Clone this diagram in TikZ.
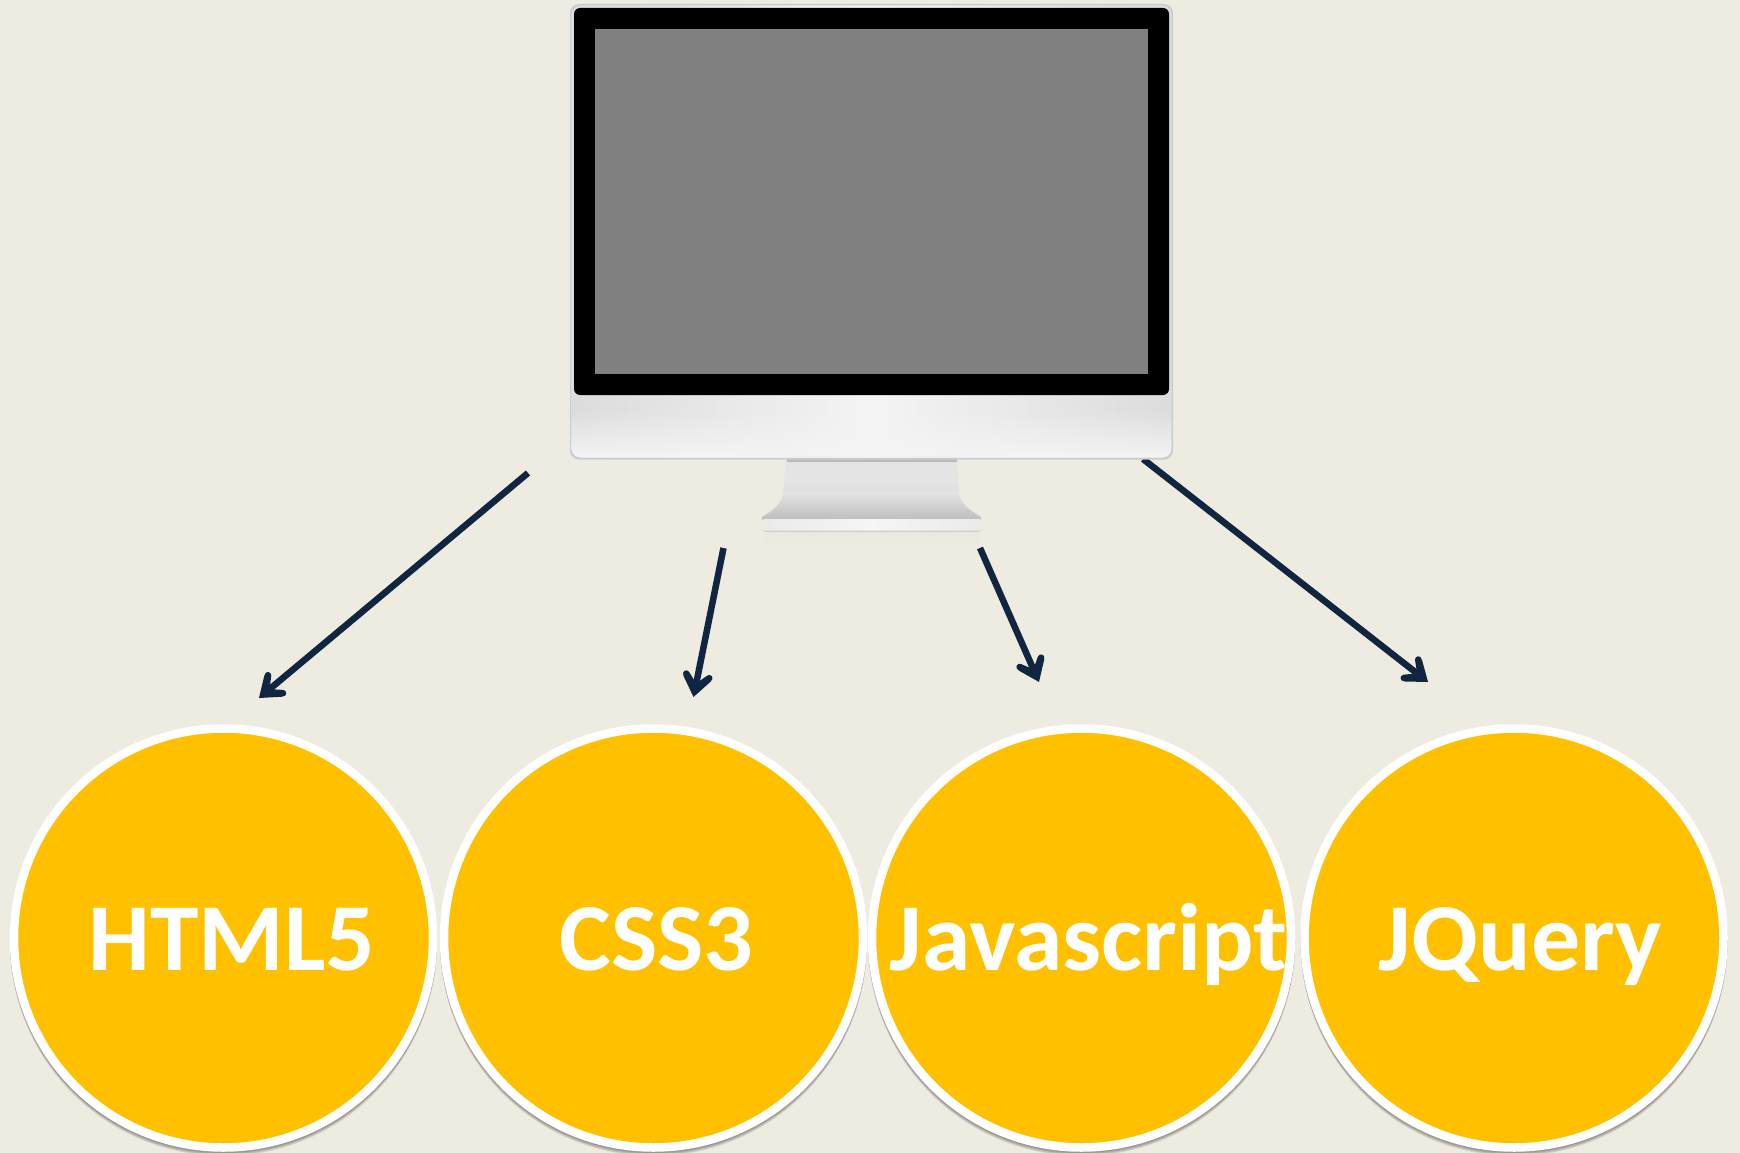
\documentclass[tikz,border=0pt]{standalone}
\usepackage{fontspec}
\setmainfont{Carlito}
\usetikzlibrary{arrows.meta,fadings}
\definecolor{bgc}{HTML}{EEECE1}
\definecolor{gold}{HTML}{FFC000}
\definecolor{navy}{HTML}{10253F}
\definecolor{sideg}{HTML}{DCDCDC}
\definecolor{midg}{HTML}{F4F4F4}
\pgfdeclarearrow{
  name=BoldBarb,
  setup code={
    \pgfarrowssettipend{0pt}
    \pgfarrowssetlineend{-12pt}
    \pgfarrowssetbackend{-25pt}
    \pgfarrowssetvisualbackend{-12pt}
    \pgfarrowsupperhullpoint{0pt}{15pt}
    \pgfarrowsupperhullpoint{-25pt}{15pt}
  },
  drawing code={
    \pgfsetdash{}{0pt}
    \pgfsetroundcap
    \pgfsetlinewidth{6.6pt}
    \pgfpathmoveto{\pgfqpoint{-21.5pt}{11.7pt}}
    \pgfpathlineto{\pgfqpoint{-9pt}{0pt}}
    \pgfpathlineto{\pgfqpoint{-21.5pt}{-11.7pt}}
    \pgfusepathqstroke
    \pgfpathmoveto{\pgfqpoint{0pt}{0pt}}
    \pgfpathlineto{\pgfqpoint{-19pt}{14.2pt}}
    \pgfpathlineto{\pgfqpoint{-13pt}{0pt}}
    \pgfpathlineto{\pgfqpoint{-19pt}{-14.2pt}}
    \pgfpathclose
    \pgfusepathqfill
  }
}
\tikzset{
 x=1pt,y=-1pt,
 disc/.style={circle,draw=white,line width=8.5pt,fill=gold,minimum size=419pt,inner sep=0pt,outer sep=0pt},
 discshadow/.style={circle,fill=black,minimum size=427pt,inner sep=0pt,draw=none,opacity=.1},
 lab/.style={text=white,font=\fontsize{96}{110}\selectfont\bfseries,anchor=base,inner sep=0pt,xscale=1.02},
 conn/.style={draw=navy,fill=navy,line width=6.5pt,-{BoldBarb}},
}
\begin{document}
\begin{tikzpicture}
\useasboundingbox (0,0) rectangle (1740,1153);
\fill[bgc] (0,0) rectangle (1740,1153);
% connector ends
\coordinate (a1s) at (528,473);\coordinate (a1e) at (259,698);
\coordinate (a2s) at (723.5,548);\coordinate (a2e) at (693.5,697);
\coordinate (a3s) at (980,548);\coordinate (a3e) at (1039,682);
\coordinate (a4s) at (1143,459);\coordinate (a4e) at (1428,682);
\draw[conn] (a1s) -- (a1e);
\draw[conn] (a2s) -- (a2e);
\draw[conn] (a3s) -- (a3e);
\draw[conn] (a4s) -- (a4e);
% shadow below the stand base
\fill[gray!30,opacity=.10,path fading=south] (765,531) rectangle (980,546);
% stand neck and flare
\path[top color=gray!22!white,bottom color=gray!24!white,middle color=gray!20!white]
  (786.5,459) -- (957,459) -- (959,492) -- (783,492) -- cycle;
\fill[gray!55!white] (786.5,459) rectangle (957,461.5);
\path[top color=gray!20!white,bottom color=gray!52!white]
  (783,492) -- (959,492) .. controls (960,503) and (968,509) .. (981,517) -- (981,520) -- (762,520) -- (762,517)
  .. controls (775,509) and (782,503) .. (783,492) -- cycle;
% stand base plate
\fill[rounded corners=3pt,gray!38!white] (763,522) rectangle (981,532);
\path[rounded corners=3pt,left color=gray!16!white,right color=gray!16!white,middle color=gray!8!white] (762,519) rectangle (982,530.5);
% bezel
\fill[rounded corners=9pt,gray!40!white] (570,4) rectangle (1173,459.5);
\path[rounded corners=9pt,left color=sideg,right color=sideg,middle color=midg] (571.5,5.5) rectangle (1171.5,457.5);
\fill[rounded corners=9pt,midg,path fading=north] (571.5,410) rectangle (1171.5,457.5);
% black frame and screen
\node[fill=black,rounded corners=6pt,minimum width=595pt,minimum height=387pt,inner sep=0pt,outer sep=0pt] (frame) at (871.5,201.5) {};
\node[fill=gray,minimum width=553pt,minimum height=345pt,inner sep=0pt,outer sep=0pt] (screen) at (871.5,201.5) {};
% discs
\foreach \n/\cx in {a/223.5,b/653.5,c/1081.5,d/1514}{
  \node[discshadow] at (\cx,939.5) {};
  \node[discshadow] at (\cx,940.5) {};
  \node[discshadow] at (\cx,941.5) {};
  \node[discshadow] at (\cx,942.5) {};
  \node[disc] (\n) at (\cx,938) {};
}
\node[lab] (t1) at (232,970) {HTML5};
\node[lab] (t2) at (656.5,970) {CSS3};
\node[lab] (t3) at (1088.5,970) {Javascript};
\node[lab] (t4) at (1520.5,970) {JQuery};
\end{tikzpicture}
\end{document}
